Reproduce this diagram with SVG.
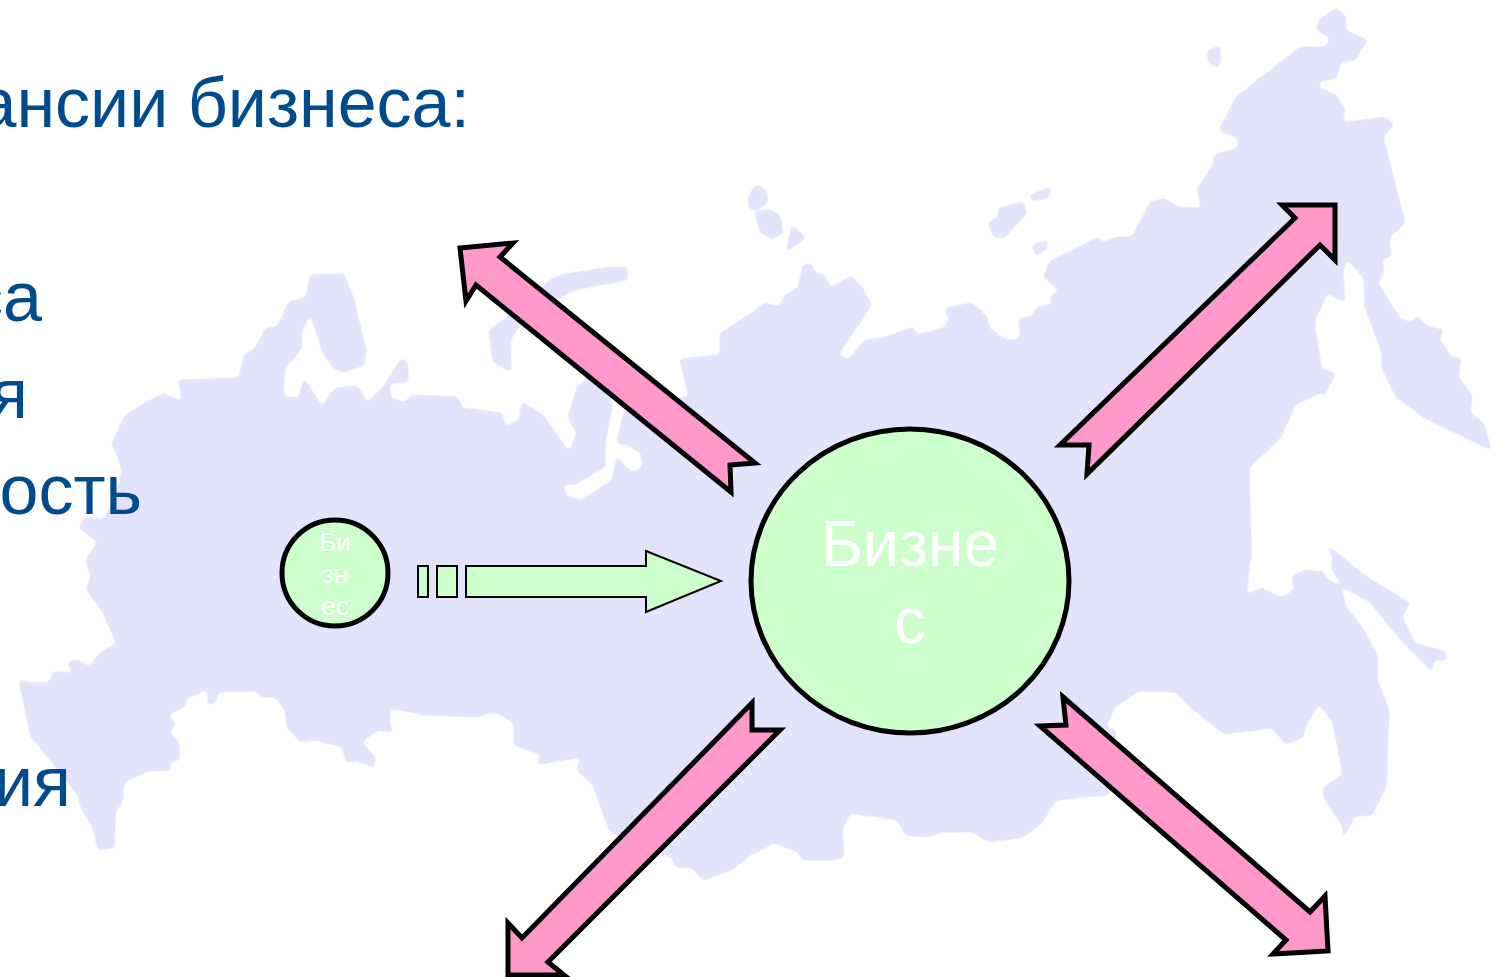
<svg xmlns="http://www.w3.org/2000/svg" width="1501" height="977" viewBox="0 0 1501 977">
<style>
.map{fill:#e3e3fb;stroke:#e3e3fb;stroke-width:1;stroke-linejoin:round}
.heading{font-family:"Liberation Sans",Arial,sans-serif;font-size:70px;fill:#004b8d;text-anchor:end}
.lbl{font-family:"Liberation Sans",Arial,sans-serif;fill:#fff;text-anchor:middle}
.big{font-size:64px}
.small{font-size:26px}
.bubble{fill:#ccffcc;stroke:#000}
.pink{fill:#ff99cc;stroke:#000;stroke-width:5;stroke-linejoin:miter;stroke-miterlimit:10}
.green{fill:#ccffcc;stroke:#000;stroke-width:2}
</style>
<defs>
<filter id="soft" x="0" y="0" width="1501" height="977" filterUnits="userSpaceOnUse">
<feGaussianBlur stdDeviation="2"/>
<feComponentTransfer><feFuncA type="linear" slope="3" intercept="-1"/></feComponentTransfer>
</filter>
</defs>
<rect width="1501" height="977" fill="#fff"/>
<g id="map" filter="url(#soft)">
<path class="map" d="M112,443 125,415 163,393 182,402 179,380 239,378 244,355 254,350 266,328 277,327 289,302 306,297 310,275 344,274 354,300 366,350 364,365 344,372 333,368 323,353 310,313 301,333 302,348 285,368 283,397 299,398 304,378 322,407 335,388 358,386 367,403 383,387 402,358 408,365 408,382 390,383 390,397 404,403 412,395 458,397 462,408 502,413 505,427 519,420 522,402 543,415 569,452 577,433 568,417 577,388 592,372 608,392 612,407 605,443 605,467 574,485 562,483 567,497 581,500 612,480 617,457 632,473 643,467 641,453 629,445 617,443 622,420 630,395 660,400 689,397 680,359 720,355 720,333 746,317 750,315 764,303 779,307 786,295 798,288 803,265 812,264 815,273 824,275 831,288 850,276 862,287 872,305 838,355 848,360 865,340 884,338 913,327 917,335 944,328 949,320 945,308 972,303 987,317 989,328 1006,340 1020,340 1019,318 1032,317 1037,307 1052,305 1051,295 1060,291 1044,277 1049,262 1099,237 1102,243 1116,237 1132,237 1150,203 1164,198 1178,207 1202,208 1197,190 1214,163 1214,155 1238,148 1238,138 1219,130 1236,97 1300,47 1327,47 1330,38 1317,30 1319,20 1336,8 1346,17 1345,30 1367,40 1355,60 1341,62 1336,78 1319,82 1319,88 1336,95 1345,110 1342,123 1386,117 1394,125 1383,137 1405,223 1389,238 1391,257 1382,258 1384,273 1378,283 1401,320 1413,322 1415,315 1429,327 1444,330 1439,338 1451,357 1461,358 1458,377 1472,395 1470,413 1484,423 1491,450 1425,418 1396,397 1382,368 1382,353 1365,307 1364,278 1346,258 1343,275 1345,302 1327,293 1314,323 1322,370 1336,373 1324,395 1319,393 1295,405 1281,437 1249,468 1251,553 1246,595 1262,588 1281,598 1295,590 1292,577 1305,570 1324,572 1324,577 1341,587 1346,607 1362,627 1377,655 1377,680 1389,710 1386,787 1372,815 1355,816 1343,838 1343,827 1323,797 1324,787 1343,775 1333,723 1319,704 1305,727 1303,737 1286,744 1272,728 1224,734 1190,707 1176,692 1138,691 1114,708 1106,728 1116,730 1109,795 1085,797 1056,800 1042,823 1023,837 989,842 972,832 941,832 927,837 905,835 898,820 850,813 842,830 844,857 831,860 803,860 798,852 774,843 750,855 732,870 703,880 691,867 677,868 672,858 612,833 608,827 593,785 577,770 581,757 545,763 538,765 541,755 514,745 514,723 498,713 488,713 478,717 426,715 390,708 390,727 395,732 378,730 361,742 376,758 373,768 356,760 347,763 342,747 316,740 301,742 287,728 285,710 275,697 261,697 258,691 218,692 215,703 208,704 208,689 187,698 184,707 168,715 175,723 170,733 179,743 179,760 170,762 170,770 148,771 124,782 122,802 115,813 114,848 98,850 93,828 81,808 79,797 48,757 31,737 19,680 33,683 50,682 53,672 74,673 67,662 79,660 89,667 100,653 117,643 100,607 86,590 91,577 86,560 98,542 79,528 86,517 103,520 115,500 122,473 120,463Z"/>
<path class="map" d="M627,267 627,280 574,290 526,317 510,340 511,372 493,362 489,330 507,317 550,280 560,275 612,267Z"/>
<path class="map" d="M757,184 767,193 767,203 755,210 749,208 749,195Z"/>
<path class="map" d="M755,213 769,209 780,215 783,233 772,239 760,232Z"/>
<path class="map" d="M792,225 806,238 786,252Z"/>
<path class="map" d="M1030,195 1052,187 1049,197 1032,201Z"/>
<path class="map" d="M999,208 1023,202 1027,213 1004,238 994,237 988,222 998,218Z"/>
<path class="map" d="M1032,245 1047,240 1047,248 1036,256Z"/>
<path class="map" d="M1207,52 1220,45 1221,60 1218,69 1209,62Z"/>
<path class="map" d="M1327,545 1367,577 1410,603 1402,617 1415,643 1446,652 1446,660 1434,660 1432,672 1401,640 1370,602 1343,587 1331,567 1333,558Z"/>
</g>
<g id="heading-text">
<text class="heading" x="470" y="127">ансии бизнеса:</text>
<text class="heading" x="42" y="321">са</text>
<text class="heading" x="28" y="418">я</text>
<text class="heading" x="142" y="514">ость</text>
<text class="heading" x="71" y="806">ия</text>
</g>
<g id="connectors">
<polygon class="pink" points="460,248 513,243 500,257 755,463 730,465 731,492 476,285 466,301"/>
<polygon class="pink" points="1335,205 1282,205 1295,218 1060,445 1089,445 1087,474 1320,245 1335,260"/>
<polygon class="pink" points="1063,697 1310,912 1325,896 1328,951 1273,954 1286,940 1040,726 1066,725"/>
<polygon class="pink" points="508,975 508,923 522,938 752,703 752,730 780,730 548,962 564,975"/>
<rect class="green" x="418" y="566" width="10" height="31"/>
<rect class="green" x="437" y="566" width="20" height="31"/>
<polygon class="green" points="466,566 646,566 646,551 721,581 646,612 646,597 466,597"/>
</g>
<g id="node-small">
<ellipse class="bubble" cx="335" cy="573" rx="53" ry="53" stroke-width="5"/>
<text class="lbl small" x="335" y="551">Би</text>
<text class="lbl small" x="335" y="583">зн</text>
<text class="lbl small" x="335" y="615">ес</text>
</g>
<g id="node-large">
<ellipse class="bubble" cx="910" cy="581" rx="159" ry="152" stroke-width="5"/>
<text class="lbl big" x="910" y="566">Бизне</text>
<text class="lbl big" x="910" y="643">с</text>
</g>
</svg>
